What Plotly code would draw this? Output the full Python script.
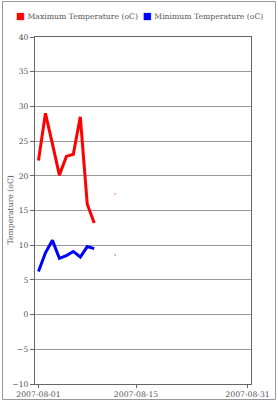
import plotly.graph_objects as go

dates = ["2007-08-01", "2007-08-02", "2007-08-03", "2007-08-04", "2007-08-05",
         "2007-08-06", "2007-08-07", "2007-08-08", "2007-08-09", "2007-08-10",
         "2007-08-11", "2007-08-12"]
max_temp = [22.2, 29.0, 24.6, 20.1, 22.8, 23.1, 28.5, 15.9, 13.2, None, None, 17.4]
min_temp = [6.2, 8.9, 10.7, 8.1, 8.5, 9.1, 8.3, 9.8, 9.5, None, None, 8.6]
series_names = ["Maximum Temperature (oC)", "Minimum Temperature (oC)"]
series_colors = ["#ff0000", "#0000ff"]
x_ticks = ["2007-08-01", "2007-08-15", "2007-08-31"]
y_title = "Temperature (oC)"

W, H = 278, 400
ml, mr, mt, mb = 35, 27, 37, 16
pw, ph = W - ml - mr, H - mt - mb

FONT = "DejaVu Serif"
FS = 7.7

def marker_sizes(vals):
    s = []
    for i, v in enumerate(vals):
        prev_none = i == 0 or vals[i - 1] is None
        next_none = i == len(vals) - 1 or vals[i + 1] is None
        s.append(2 if (v is not None and prev_none and next_none) else 0)
    return s

fig = go.Figure()
for name, vals, col in zip(series_names, [max_temp, min_temp], series_colors):
    fig.add_trace(go.Scatter(
        x=dates, y=vals, name=name, mode="lines+markers",
        line=dict(color=col, width=3),
        marker=dict(size=marker_sizes(vals), color=col, opacity=0.35, line=dict(width=0)),
        connectgaps=False, showlegend=False, hoverinfo="skip"))

legend_text = "  ".join(
    f'<span style="color:{c};font-size:9.5px">■</span> {n}'
    for n, c in zip(series_names, series_colors))

def px_x(p):
    return (p - ml) / pw

def px_y(p):
    return (H - mb - p) / ph

fig.update_layout(
    width=W, height=H,
    margin=dict(l=ml, r=mr, t=mt, b=mb, autoexpand=False),
    paper_bgcolor="white", plot_bgcolor="white",
    showlegend=False,
    font=dict(family=FONT, size=FS, color="#555555"),
    xaxis=dict(
        type="date", automargin=False,
        range=["2007-07-31 12:00", "2007-08-31 12:00"],
        tickvals=x_ticks, ticktext=x_ticks,
        showgrid=False, zeroline=False,
        showline=True, linecolor="#666666", linewidth=1, mirror=True,
        ticks="outside", ticklen=3, tickcolor="#666666",
        tickfont=dict(family=FONT, size=FS, color="#555555"),
    ),
    yaxis=dict(
        automargin=False,
        range=[-10, 40], dtick=5, tick0=0,
        showgrid=True, gridcolor="#999999", gridwidth=1,
        zeroline=False,
        showline=True, linecolor="#666666", linewidth=1, mirror=True,
        ticks="outside", ticklen=4, tickcolor="#666666",
        tickfont=dict(family=FONT, size=FS, color="#555555"),
    ),
    annotations=[
        dict(text=legend_text, xref="paper", yref="paper",
             x=px_x(W / 2), y=px_y(15.5), xanchor="center", yanchor="middle",
             showarrow=False, font=dict(family=FONT, size=FS, color="#555555")),
        dict(text=y_title, xref="paper", yref="paper", textangle=-90,
             x=px_x(10), y=0.5, xanchor="center", yanchor="middle",
             showarrow=False, font=dict(family=FONT, size=FS, color="#555555")),
    ],
    shapes=[dict(
        type="rect", xref="paper", yref="paper",
        x0=px_x(2.5), x1=px_x(275.5), y0=px_y(399.5), y1=px_y(1.5),
        line=dict(color="#999999", width=1), fillcolor="rgba(0,0,0,0)", layer="above")],
)

fig.write_html("out.html")
